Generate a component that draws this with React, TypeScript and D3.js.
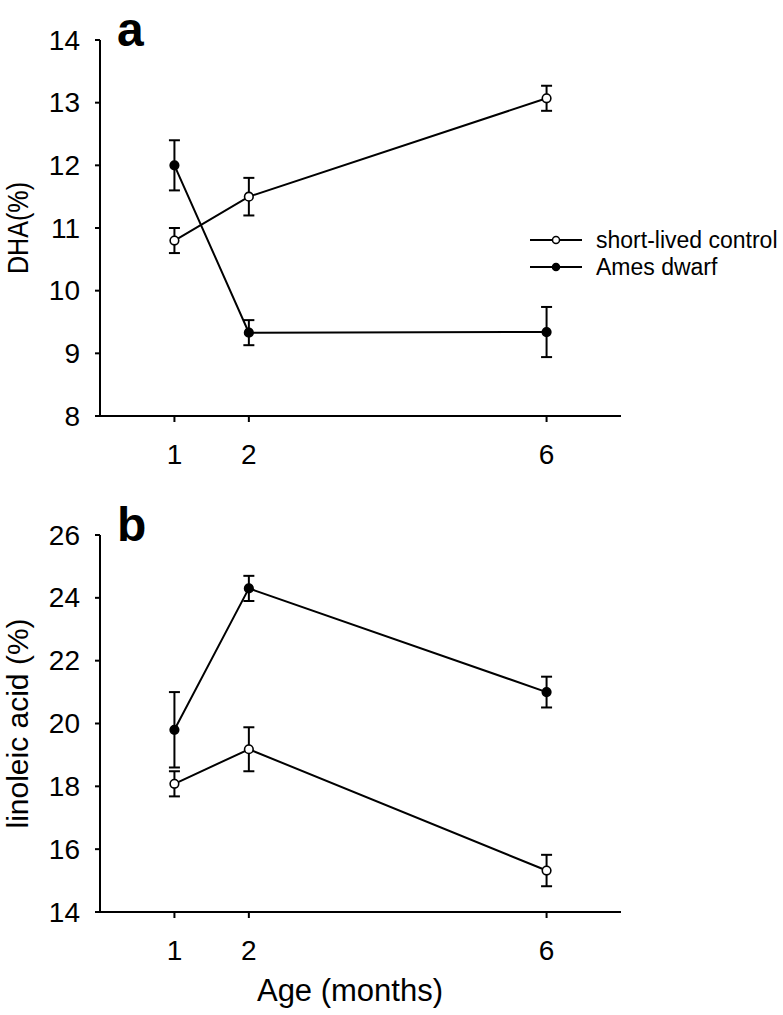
import React from "react";
import * as d3 from "d3";

const ages = [1, 2, 6];
const xTicks = [1, 2, 6];

const dhaControl = [10.8, 11.5, 13.07];
const dhaControlErr = [0.2, 0.3, 0.2];
const dhaAmes = [12.0, 9.33, 9.34];
const dhaAmesErr = [0.4, 0.2, 0.4];
const dhaTicks = [8, 9, 10, 11, 12, 13, 14];

const linControl = [18.08, 19.18, 15.32];
const linControlErr = [0.4, 0.7, 0.5];
const linAmes = [19.8, 24.3, 21.0];
const linAmesErr = [1.2, 0.4, 0.49];
const linTicks = [14, 16, 18, 20, 22, 24, 26];

const seriesNames = ["short-lived control", "Ames dwarf"];

const FONT = "'Liberation Sans', Arial, Helvetica, sans-serif";
const W = 783;
const H = 1015;

const x = d3.scaleLinear().domain([0, 7]).range([100, 621]);

type PanelProps = {
  y: d3.ScaleLinear<number, number>;
  ticks: number[];
  control: number[];
  controlErr: number[];
  ames: number[];
  amesErr: number[];
  letter: string;
  ylabel: string;
  ylabelLen?: number;
};

function Panel({ y, ticks, control, controlErr, ames, amesErr, letter, ylabel, ylabelLen }: PanelProps) {
  const [y0, y1] = y.range();
  const line = d3
    .line<[number, number]>()
    .x((d) => x(d[0]))
    .y((d) => y(d[1]));
  const series = [
    { vals: control, errs: controlErr, fill: "#fff" },
    { vals: ames, errs: amesErr, fill: "#000" },
  ];
  const cap = 5.5;
  return (
    <g>
      <line x1={x(0)} x2={x(0)} y1={y1} y2={y0} stroke="#000" strokeWidth={2} />
      <line x1={96} x2={x(7)} y1={y0} y2={y0} stroke="#000" strokeWidth={2} />
      {ticks.map((t) => (
        <g key={t}>
          <line x1={x(0) - 5} x2={x(0)} y1={y(t)} y2={y(t)} stroke="#000" strokeWidth={2} />
          <text
            x={80}
            y={y(t)}
            textAnchor="end"
            dominantBaseline="central"
            fontSize={28}
            fontFamily={FONT}
          >
            {t}
          </text>
        </g>
      ))}
      {xTicks.map((t) => (
        <g key={t}>
          <line x1={x(t)} x2={x(t)} y1={y0} y2={y0 + 6} stroke="#000" strokeWidth={2} />
          <text
            x={x(t)}
            y={y0 + 38}
            textAnchor="middle"
            dominantBaseline="central"
            fontSize={28}
            fontFamily={FONT}
          >
            {t}
          </text>
        </g>
      ))}
      <text
        transform={`translate(17,${(y0 + y1) / 2}) rotate(-90)`}
        textAnchor="middle"
        dominantBaseline="central"
        fontSize={30}
        fontFamily={FONT}
        textLength={ylabelLen}
        lengthAdjust={ylabelLen ? "spacingAndGlyphs" : undefined}
      >
        {ylabel}
      </text>
      <text x={117} y={y1 + 6} fontSize={48} fontWeight="bold" fontFamily={FONT}>
        {letter}
      </text>
      {series.map((s, i) => (
        <path
          key={"l" + i}
          d={line(ages.map((a, j) => [a, s.vals[j]] as [number, number])) || ""}
          fill="none"
          stroke="#000"
          strokeWidth={2}
        />
      ))}
      {series.map((s, i) =>
        ages.map((a, j) => {
          const cx = x(a);
          const top = y(s.vals[j] + s.errs[j]);
          const bot = y(s.vals[j] - s.errs[j]);
          return (
            <g key={"e" + i + "-" + j} stroke="#000" strokeWidth={2}>
              <line x1={cx} x2={cx} y1={top} y2={bot} />
              <line x1={cx - cap} x2={cx + cap} y1={top} y2={top} />
              <line x1={cx - cap} x2={cx + cap} y1={bot} y2={bot} />
            </g>
          );
        })
      )}
      {series.map((s, i) =>
        ages.map((a, j) => (
          <circle
            key={"m" + i + "-" + j}
            cx={x(a)}
            cy={y(s.vals[j])}
            r={4.3}
            fill={s.fill}
            stroke="#000"
            strokeWidth={1.6}
          />
        ))
      )}
    </g>
  );
}

export default function App() {
  const yA = d3.scaleLinear().domain([8, 14]).range([416, 40]);
  const yB = d3.scaleLinear().domain([14, 26]).range([912, 535]);
  const legendFills = ["#fff", "#000"];
  return (
    <svg
      width={W}
      height={H}
      style={{ position: "absolute", left: 0, top: 0, background: "#fff" }}
    >
      <rect width={W} height={H} fill="#fff" />
      <Panel
        y={yA}
        ticks={dhaTicks}
        control={dhaControl}
        controlErr={dhaControlErr}
        ames={dhaAmes}
        amesErr={dhaAmesErr}
        letter="a"
        ylabel="DHA(%)"
        ylabelLen={92}
      />
      <Panel
        y={yB}
        ticks={linTicks}
        control={linControl}
        controlErr={linControlErr}
        ames={linAmes}
        amesErr={linAmesErr}
        letter="b"
        ylabel="linoleic acid (%)"
      />
      <text
        x={350}
        y={990}
        textAnchor="middle"
        dominantBaseline="central"
        fontSize={31}
        fontFamily={FONT}
      >
        Age (months)
      </text>
      {seriesNames.map((n, i) => {
        const ly = 240 + i * 27;
        return (
          <g key={n}>
            <line x1={530} x2={582} y1={ly} y2={ly} stroke="#000" strokeWidth={2} />
            <circle cx={556} cy={ly} r={3.5} fill={legendFills[i]} stroke="#000" strokeWidth={1.5} />
            <text x={596} y={ly} dominantBaseline="central" fontSize={23} fontFamily={FONT}>
              {n}
            </text>
          </g>
        );
      })}
    </svg>
  );
}
